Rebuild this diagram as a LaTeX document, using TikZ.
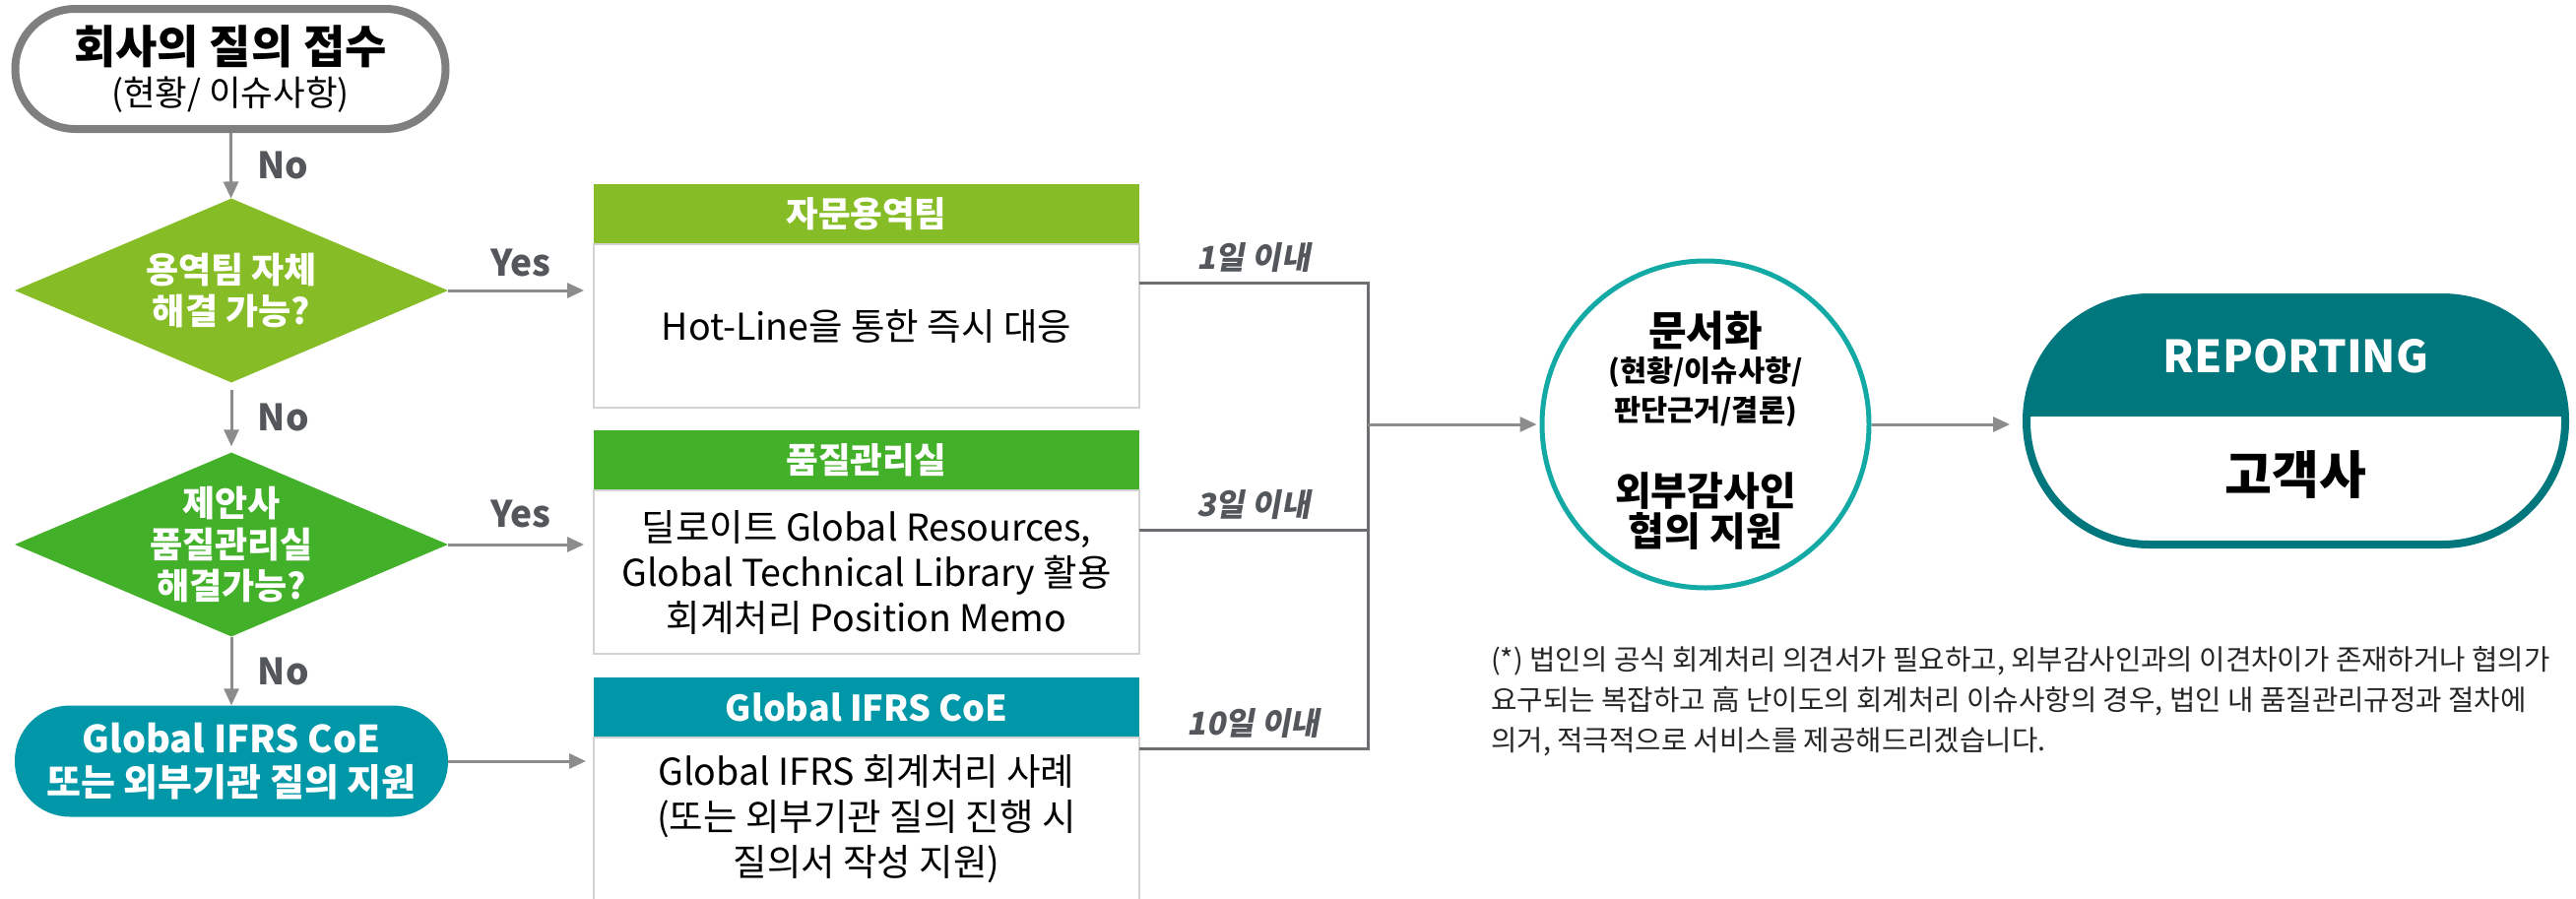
\documentclass[tikz,border=0pt]{standalone}
\usepackage{fontspec}
\setmainfont{Noto Sans CJK KR}
\newfontfamily\slantfont{Noto Sans CJK KR}[FakeSlant=0.18]
\usetikzlibrary{shapes.geometric, arrows.meta, positioning}

\definecolor{limegreen}{HTML}{86BC25}
\definecolor{leafgreen}{HTML}{43B02A}
\definecolor{ifrsteal}{HTML}{0097A9}
\definecolor{repteal}{HTML}{00767D}
\definecolor{ringteal}{HTML}{13A9A5}
\definecolor{pillgray}{HTML}{7F7F7F}
\definecolor{arrgray}{HTML}{8C8C8C}
\definecolor{busgray}{HTML}{6D6E71}
\definecolor{lblgray}{HTML}{53565A}
\definecolor{boxgray}{HTML}{D3D3D3}

\newcommand{\fsz}[2]{\fontsize{#1}{#2}\selectfont\lineskiplimit=-100pt\relax}

\tikzset{
  arr/.style={draw=arrgray, line width=3pt, -{Triangle[length=17pt,width=15pt]}},
  bus/.style={draw=busgray, line width=3pt},
  yn/.style={text=lblgray, font=\fsz{37}{40}\bfseries},
  days/.style={text=lblgray, font=\slantfont\bfseries\fsz{32}{36}},
  decide/.style={diamond, aspect=2.35, minimum width=440pt, minimum height=187pt, inner sep=-10pt, text=white, align=center, font=\fsz{36}{42}\bfseries},
  headbox/.style={rectangle, minimum width=554pt, minimum height=61pt, inner sep=0pt, outer sep=0pt, text=white, font=\fsz{35.5}{40}\bfseries},
  bodybox/.style={rectangle, draw=boxgray, line width=2pt, minimum width=554pt, minimum height=166pt, inner sep=0pt, outer sep=0pt, align=center, font=\fsz{37.5}{46}}
}

\begin{document}
\begin{tikzpicture}[x=1pt, y=-1pt]
\useasboundingbox (0,0) rectangle (2616,913);

\node[rectangle, rounded corners=61pt, draw=pillgray, line width=8pt, minimum width=437pt, minimum height=122pt, align=center, font=\fsz{35.5}{43}] (ask) at (234,70) {{\fsz{46}{43}\bfseries 회사의 질의 접수}\\(현황/ 이슈사항)};
\node[decide, fill=limegreen] (q1) at (235,295) {용역팀 자체\\해결 가능?};
\node[decide, fill=leafgreen] (q2) at (235,553) {제안사\\품질관리실\\해결가능?};
\node[rectangle, rounded corners=56pt, fill=ifrsteal, minimum width=440pt, minimum height=113pt, text=white, align=center, font=\fsz{38}{44}\bfseries] (coe) at (235,773) {Global IFRS CoE\\또는 외부기관 질의 지원};

\node[headbox, fill=limegreen] (h1) at (880,217.5) {자문용역팀};
\node[bodybox, below=0pt of h1] (b1) {Hot-Line을 통한 즉시 대응};
\node[headbox, fill=leafgreen] (h2) at (880,467.5) {품질관리실};
\node[bodybox, below=0pt of h2] (b2) {딜로이트 Global Resources,\\Global Technical Library 활용\\회계처리 Position Memo};
\node[headbox, fill=ifrsteal, font=\fsz{36}{40}\bfseries] (h3) at (880,718.5) {Global IFRS CoE};
\node[bodybox, below=0pt of h3] (b3) {Global IFRS 회계처리 사례\\(또는 외부기관 질의 진행 시\\질의서 작성 지원)};

\node[circle, draw=ringteal, line width=5pt, fill=white, minimum size=332pt, inner sep=0pt, align=center, font=\fsz{29.5}{39}\bfseries] (doc) at (1732,431) {{\fsz{42}{39}\rule{0pt}{47pt}문서화}\\[-3pt](현황/이슈사항/\\[1pt]판단근거/결론)\\[47pt]{\fsz{40}{39}외부감사인}\\[2pt]{\fsz{40}{39}협의 지원}};

\node[rectangle, rounded corners=125pt, draw=repteal, line width=8pt, fill=white, minimum width=547pt, minimum height=251pt, path picture={\fill[repteal, sharp corners] (path picture bounding box.north west) rectangle ([yshift=-121pt]path picture bounding box.north east);}] (rep) at (2331.5,427.5) {};
\node[text=white, font=\fsz{45}{48}\bfseries] (reptitle) at ([yshift=-63.5pt]rep.north) {REPORTING};
\node[font=\fsz{52}{52}\bfseries] (client) at ([yshift=-55pt]rep.center) {고객사};

\draw[arr] (ask) -- node[yn, right=22pt]{No} (q1);
\draw[arr, shorten <=7pt, shorten >=6pt] (q1) -- node[yn, right=22pt]{No} (q2);
\draw[arr] (q2) -- node[yn, right=22pt]{No} (coe);
\draw[arr, shorten >=10pt] (q1.east) -- node[yn, above=9pt]{Yes} (q1.east -| b1.west);
\draw[arr, shorten >=10pt] (q2.east) -- node[yn, above=12pt]{Yes} (q2.east -| b2.west);
\draw[arr, shorten >=8pt] (coe.east) -- (coe.east -| b3.west);

\coordinate (hub) at (1389,431);
\draw[bus] ([yshift=-39pt]b1.north east) -| node[days, pos=.25, above=6pt]{1일 이내} (hub);
\draw[bus] ([yshift=-40pt]b2.north east) -| node[days, pos=.25, above=6pt]{3일 이내} (hub);
\draw[bus] ([yshift=-11pt]b3.north east) -| node[days, pos=.25, above=6pt]{10일 이내} (hub);
\draw[arr, shorten >=3pt] (hub) -- (doc);
\draw[arr, shorten >=13pt] (doc.east) -- (doc.east -| rep.west);

\node[anchor=north west, align=left, inner sep=0pt, font=\fsz{28.7}{41}, text=black!85] (memo) at (1514,656) {(*) 법인의 공식 회계처리 의견서가 필요하고, 외부감사인과의 이견차이가 존재하거나 협의가\\요구되는 복잡하고 高 난이도의 회계처리 이슈사항의 경우, 법인 내 품질관리규정과 절차에\\의거, 적극적으로 서비스를 제공해드리겠습니다.};
\end{tikzpicture}
\end{document}
